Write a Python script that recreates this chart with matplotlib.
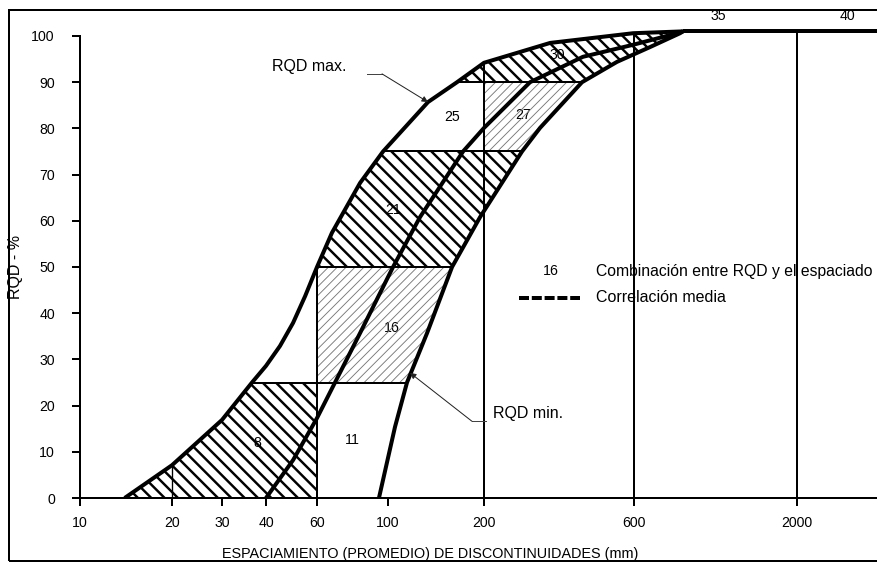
import numpy as np
import matplotlib.pyplot as plt
from matplotlib.patches import Polygon, Rectangle
from matplotlib.ticker import NullLocator

plt.rcParams["font.family"] = ["Liberation Sans", "DejaVu Sans"]
plt.rcParams["hatch.linewidth"] = 2.2

# curves (spacing in mm, RQD in %)
rqd_max_x = [14.0, 20, 30, 36.5, 40, 44.7, 49.6, 54.6, 60, 66.8, 81.8, 96.5, 133.5, 164.6, 200, 324.6, 596, 861.6]
rqd_max_y = [0, 7.1, 16.9, 25, 28.6, 32.9, 37.9, 43.7, 50, 57.4, 68.2, 75, 85.7, 90, 94.2, 98.5, 100.6, 101]

mean_x = [40, 49.6, 60, 68.3, 81.8, 103.7, 126, 171.9, 200, 280.2, 412.9, 596, 824.5, 861.6]
mean_y = [0, 8.2, 17.3, 25, 35.7, 50, 60.8, 75, 80.1, 90, 95.5, 98.1, 100.6, 101]

rqd_min_x = [93.7, 105.2, 114.7, 132.6, 158.8, 194.4, 264.2, 301.4, 410, 529.7, 675.2, 843, 861.6]
rqd_min_y = [0, 15.4, 25, 35.7, 50, 60.8, 75, 80.1, 90, 94.4, 97.6, 100.6, 101]

rqd_levels = [25, 50, 75, 90]
top_level = 101

xticks = [10, 20, 30, 40, 60, 100, 200, 600, 2000]
yticks = list(range(0, 101, 10))

region_labels = ["8", "11", "16", "21", "25", "27", "30", "35", "40"]
region_x = [37.7, 77.2, 102.9, 103.7, 158.8, 266, 341.5, 1116, 2893]
region_y = [11.9, 12.6, 36.8, 62.3, 82.5, 82.9, 95.9, 104.3, 104.3]

# the printed x axis is hand drawn: tick spacing is only roughly logarithmic,
# so place the ticks where the original has them (pixels from the y axis)
tick_px = [0, 92, 142, 186, 237, 308, 404, 554, 717]
knot_l = np.concatenate([[0], np.log10(xticks), [np.log10(2000) + 1]])
knot_p = np.concatenate([[-305.6], tick_px, [717 + 311.7]])


def fwd(x):
    return np.interp(np.log10(np.clip(x, 1e-6, None)), knot_l, knot_p)


def inv(p):
    return 10 ** np.interp(p, knot_p, knot_l)


def x_on(cx, cy, y):
    return inv(np.interp(y, cy, fwd(np.asarray(cx, float))))


def y_on(cx, cy, x):
    return np.interp(fwd(np.asarray(x, float)), fwd(np.asarray(cx, float)), cy)


def seg(cx, cy, y0, y1):
    cy_arr = np.asarray(cy)
    inner = (cy_arr > y0) & (cy_arr < y1)
    ys = np.concatenate([[y0], cy_arr[inner], [y1]])
    xs = x_on(cx, cy, ys)
    return list(zip(xs, ys))


DPI = 80
fig = plt.figure(figsize=(877 / DPI, 563 / DPI), dpi=DPI)
ax = fig.add_axes([80 / 877, 65 / 563, 797 / 877, 105 * 4.62 / 563])
ax.set_xscale("function", functions=(fwd, inv))
xmax = float(inv(797))
ax.set_xlim(10, xmax)
ax.set_ylim(0, 105)

# hatched cells
dense = dict(facecolor="none", edgecolor="black", lw=0, hatch="\\\\", zorder=1)
light = dict(facecolor="none", edgecolor="#777777", lw=0, hatch="///", zorder=1)

cells = [
    (seg(rqd_max_x, rqd_max_y, 0, 25) + [(60, 25), (60, 0)], dense),
    ([(60, 25), (60, 50)] + seg(rqd_min_x, rqd_min_y, 25, 50)[::-1], light),
    (seg(rqd_max_x, rqd_max_y, 50, 75) + seg(rqd_min_x, rqd_min_y, 50, 75)[::-1], dense),
    ([(200, 75), (200, 90)] + seg(rqd_min_x, rqd_min_y, 75, 90)[::-1], light),
    (seg(rqd_max_x, rqd_max_y, 90, top_level) + seg(rqd_min_x, rqd_min_y, 90, top_level)[::-1], dense),
]
for pts, style in cells:
    p = Polygon(pts, closed=True, **style)
    if style is light and hasattr(p, "set_hatch_linewidth"):
        p.set_hatch_linewidth(0.8)
    ax.add_patch(p)

# cell borders
for lev in rqd_levels:
    x0 = x_on(rqd_max_x, rqd_max_y, lev)
    x1 = x_on(rqd_min_x, rqd_min_y, lev)
    ax.plot([x0, x1], [lev, lev], color="black", lw=1.8, zorder=3)

ax.plot([20, 20], [0, y_on(rqd_max_x, rqd_max_y, 20)], color="black", lw=1.2, zorder=3)
ax.plot([60, 60], [0, 50], color="black", lw=1.8, zorder=3)
for xv in [200, 600]:
    ax.plot([xv, xv], [0, y_on(rqd_max_x, rqd_max_y, xv)], color="black", lw=1.8, zorder=3)
ax.plot([2000, 2000], [0, top_level], color="black", lw=1.8, zorder=3)

# main curves
for cx, cy in [(rqd_max_x, rqd_max_y), (mean_x, mean_y), (rqd_min_x, rqd_min_y)]:
    ax.plot(cx, cy, color="black", lw=3.6, solid_capstyle="butt",
            solid_joinstyle="round", zorder=4)
ax.plot([rqd_max_x[-1], xmax], [top_level, top_level], color="black", lw=3.6,
        solid_capstyle="butt", zorder=4, clip_on=False)

# cell numbers
for lab, xv, yv in zip(region_labels, region_x, region_y):
    ax.text(xv, yv, lab, ha="center", va="center", fontsize=12.7, zorder=0.5, clip_on=False)

# legend
ax.text(326.7, 49.1, "16", ha="center", va="center", fontsize=12.7, zorder=2)
ax.text(454, 49.1, "Combinación entre RQD y el espaciado", ha="left", va="center",
        fontsize=14.2, zorder=2)
ax.plot([258.4, 404], [43.3, 43.3], color="black", lw=3.6, ls=(0, (2.5, 0.7)), zorder=2)
ax.text(454, 43.3, "Correlación media", ha="left", va="center", fontsize=14.4, zorder=2)

# RQD max / min callouts
ax.text(42, 93.5, "RQD max.", ha="left", va="center", fontsize=14.4, zorder=2)
ax.plot([86, 95.8], [91.8, 91.8], color="#444444", lw=0.9, zorder=5)
ax.annotate("", xy=(133.5, 85.7), xytext=(95.8, 91.8),
            arrowprops=dict(arrowstyle="-|>", color="#222222", lw=0.9,
                            mutation_scale=11, shrinkA=0, shrinkB=0), zorder=5)

ax.text(213.6, 18.2, "RQD min.", ha="left", va="center", fontsize=14.4, zorder=2)
ax.plot([183.4, 203], [16.6, 16.6], color="#444444", lw=0.9, zorder=5)
ax.annotate("", xy=(117.2, 27.1), xytext=(183.4, 16.6),
            arrowprops=dict(arrowstyle="-|>", color="#222222", lw=0.9,
                            mutation_scale=11, shrinkA=0, shrinkB=0), zorder=5)

# axes styling
for side in ["top", "right"]:
    ax.spines[side].set_visible(False)
ax.spines["left"].set_bounds(0, 100)
ax.spines["left"].set_linewidth(1.8)
ax.spines["bottom"].set_linewidth(1.8)
ax.patch.set_alpha(0)

ax.set_xticks(xticks)
ax.set_xticklabels([str(v) for v in xticks])
ax.xaxis.set_minor_locator(NullLocator())
ax.set_yticks(yticks)
ax.yaxis.set_minor_locator(NullLocator())
ax.tick_params(direction="out", length=7.2, width=1.8, labelsize=12.7)
ax.tick_params(axis="x", pad=9)
ax.tick_params(axis="y", pad=15.5)

ax.text(0.439, -0.115, "ESPACIAMIENTO (PROMEDIO) DE DISCONTINUIDADES (mm)",
        transform=ax.transAxes, ha="center", va="center", fontsize=12.9)
ax.text(-0.081, 50 / 105, "RQD - %", transform=ax.transAxes, rotation=90,
        ha="center", va="center", fontsize=14.4)

# outer frame
fig.add_artist(Rectangle((9 / 877, 2 / 563), 1.0, 551 / 563, transform=fig.transFigure,
                         fill=False, edgecolor="black", lw=1.8))

fig.savefig("out.png", dpi=DPI)
